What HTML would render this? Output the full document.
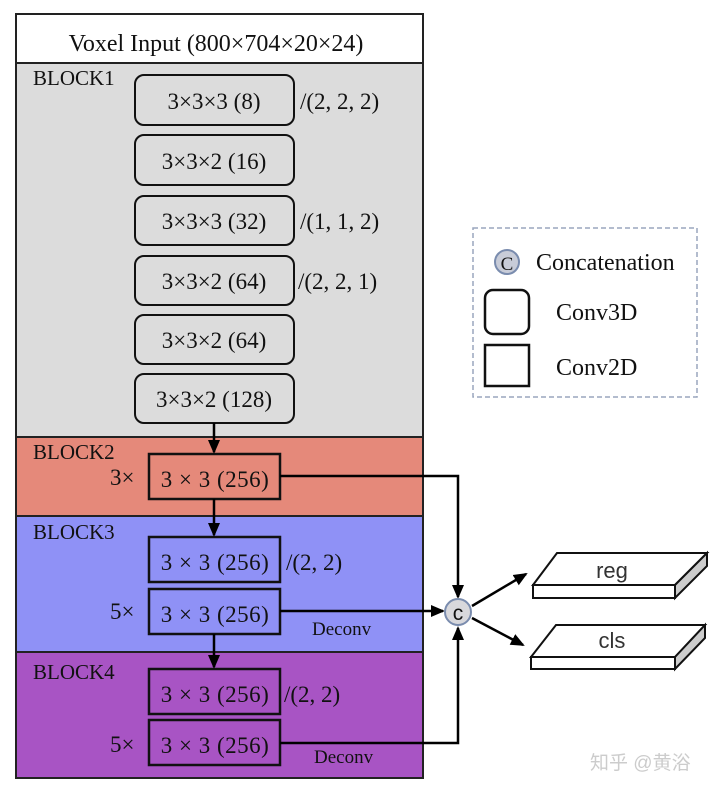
<!DOCTYPE html>
<html><head><meta charset="utf-8"><style>
body{margin:0;background:#fff;width:720px;height:790px;overflow:hidden}
text{font-family:"Liberation Serif",serif;fill:#111}
</style></head><body>
<svg width="720" height="790" xmlns="http://www.w3.org/2000/svg">
<defs><marker id="a" markerWidth="14" markerHeight="14" refX="12" refY="7" orient="auto" markerUnits="userSpaceOnUse"><path d="M0,1 L14,7 L0,13 z" fill="#000"/></marker></defs>
<rect x="16" y="14" width="407" height="49" fill="#fff" stroke="#222" stroke-width="2"/>
<text x="216" y="51" font-size="24" text-anchor="middle">Voxel Input (800×704×20×24)</text>
<rect x="16" y="63" width="407" height="374" fill="#dcdcdc" stroke="#222" stroke-width="2"/>
<rect x="16" y="437" width="407" height="79" fill="#e5897a" stroke="#222" stroke-width="2"/>
<rect x="16" y="516" width="407" height="136" fill="#8f91f6" stroke="#222" stroke-width="2"/>
<rect x="16" y="652" width="407" height="126" fill="#a854c4" stroke="#222" stroke-width="2"/>
<g font-size="21">
<text x="33" y="85">BLOCK1</text>
<text x="33" y="459">BLOCK2</text>
<text x="33" y="539">BLOCK3</text>
<text x="33" y="679">BLOCK4</text>
</g>
<g fill="#dcdcdc" stroke="#111" stroke-width="2">
<rect x="135" y="75" width="159" height="50" rx="9"/>
<rect x="135" y="135" width="159" height="50" rx="9"/>
<rect x="135" y="196" width="159" height="49" rx="9"/>
<rect x="135" y="256" width="159" height="49" rx="9"/>
<rect x="135" y="315" width="159" height="49" rx="9"/>
<rect x="135" y="374" width="159" height="49" rx="9"/>
</g>
<g font-size="23" text-anchor="middle">
<text x="214" y="109">3×3×3 (8)</text>
<text x="214" y="169">3×3×2 (16)</text>
<text x="214" y="229">3×3×3 (32)</text>
<text x="214" y="289">3×3×2 (64)</text>
<text x="214" y="348">3×3×2 (64)</text>
<text x="214" y="407">3×3×2 (128)</text>
</g>
<g font-size="23">
<text x="300" y="109">/(2, 2, 2)</text>
<text x="300" y="229">/(1, 1, 2)</text>
<text x="298" y="289">/(2, 2, 1)</text>
</g>
<g fill="none" stroke="#111" stroke-width="2.5">
<rect x="149" y="454" width="131" height="45"/>
<rect x="149" y="537" width="131" height="45"/>
<rect x="149" y="589" width="131" height="45"/>
<rect x="149" y="669" width="131" height="45"/>
<rect x="149" y="720" width="131" height="45"/>
</g>
<g font-size="23" text-anchor="middle" letter-spacing="0.5">
<text x="215" y="487">3 × 3 (256)</text>
<text x="215" y="570">3 × 3 (256)</text>
<text x="215" y="622">3 × 3 (256)</text>
<text x="215" y="702">3 × 3 (256)</text>
<text x="215" y="753">3 × 3 (256)</text>
</g>
<g font-size="23">
<text x="110" y="485">3×</text>
<text x="110" y="619">5×</text>
<text x="110" y="752">5×</text>
<text x="286" y="570">/(2, 2)</text>
<text x="284" y="702">/(2, 2)</text>
</g>
<g font-size="19"><text x="312" y="635">Deconv</text><text x="314" y="763">Deconv</text></g>
<g stroke="#000" stroke-width="2.5" fill="none">
<line x1="214" y1="423" x2="214" y2="452" marker-end="url(#a)"/>
<line x1="214" y1="499" x2="214" y2="535" marker-end="url(#a)"/>
<line x1="214" y1="634" x2="214" y2="667" marker-end="url(#a)"/>
<polyline points="280,476 458,476 458,597" marker-end="url(#a)"/>
<line x1="280" y1="611" x2="443" y2="611" marker-end="url(#a)"/>
<polyline points="280,743 458,743 458,628" marker-end="url(#a)"/>
<line x1="472" y1="606" x2="526" y2="574" marker-end="url(#a)"/>
<line x1="472" y1="618" x2="523" y2="645" marker-end="url(#a)"/>
</g>
<circle cx="458" cy="612" r="13" fill="#d8d8dc" stroke="#7a8cae" stroke-width="2"/>
<text x="458" y="620" font-size="21" text-anchor="middle" style="font-family:'Liberation Sans',sans-serif">c</text>
<g stroke="#111" stroke-width="2">
<polygon points="533,585 557,553 707,553 675,585" fill="#fff"/>
<rect x="533" y="585" width="142" height="13" fill="#fff"/>
<polygon points="675,585 707,553 707,566 675,598" fill="#ccc"/>
<polygon points="531,657 556,625 705,625 675,657" fill="#fff"/>
<rect x="531" y="657" width="144" height="12" fill="#fff"/>
<polygon points="675,657 705,625 705,638 675,669" fill="#ccc"/>
</g>
<g font-size="22" text-anchor="middle">
<text x="612" y="578" style="font-family:'Liberation Sans',sans-serif;fill:#333">reg</text>
<text x="612" y="648" style="font-family:'Liberation Sans',sans-serif;fill:#333">cls</text>
</g>
<rect x="473" y="228" width="224" height="169" fill="#fff" stroke="#9aa6bd" stroke-width="1.5" stroke-dasharray="5,3"/>
<circle cx="507" cy="262" r="12" fill="#c8ccd8" stroke="#7a8cae" stroke-width="2"/>
<text x="507" y="270" font-size="19" text-anchor="middle">C</text>
<text x="536" y="270" font-size="24">Concatenation</text>
<rect x="485" y="290" width="44" height="44" rx="8" fill="none" stroke="#111" stroke-width="2.5"/>
<text x="556" y="320" font-size="24">Conv3D</text>
<rect x="485" y="345" width="44" height="41" fill="none" stroke="#111" stroke-width="2.5"/>
<text x="556" y="375" font-size="24">Conv2D</text>
<text x="590" y="769" font-size="19" style="fill:#ccc;font-family:'Liberation Sans','Noto Sans CJK SC',sans-serif">知乎 @黄浴</text>
</svg>
</body></html>
